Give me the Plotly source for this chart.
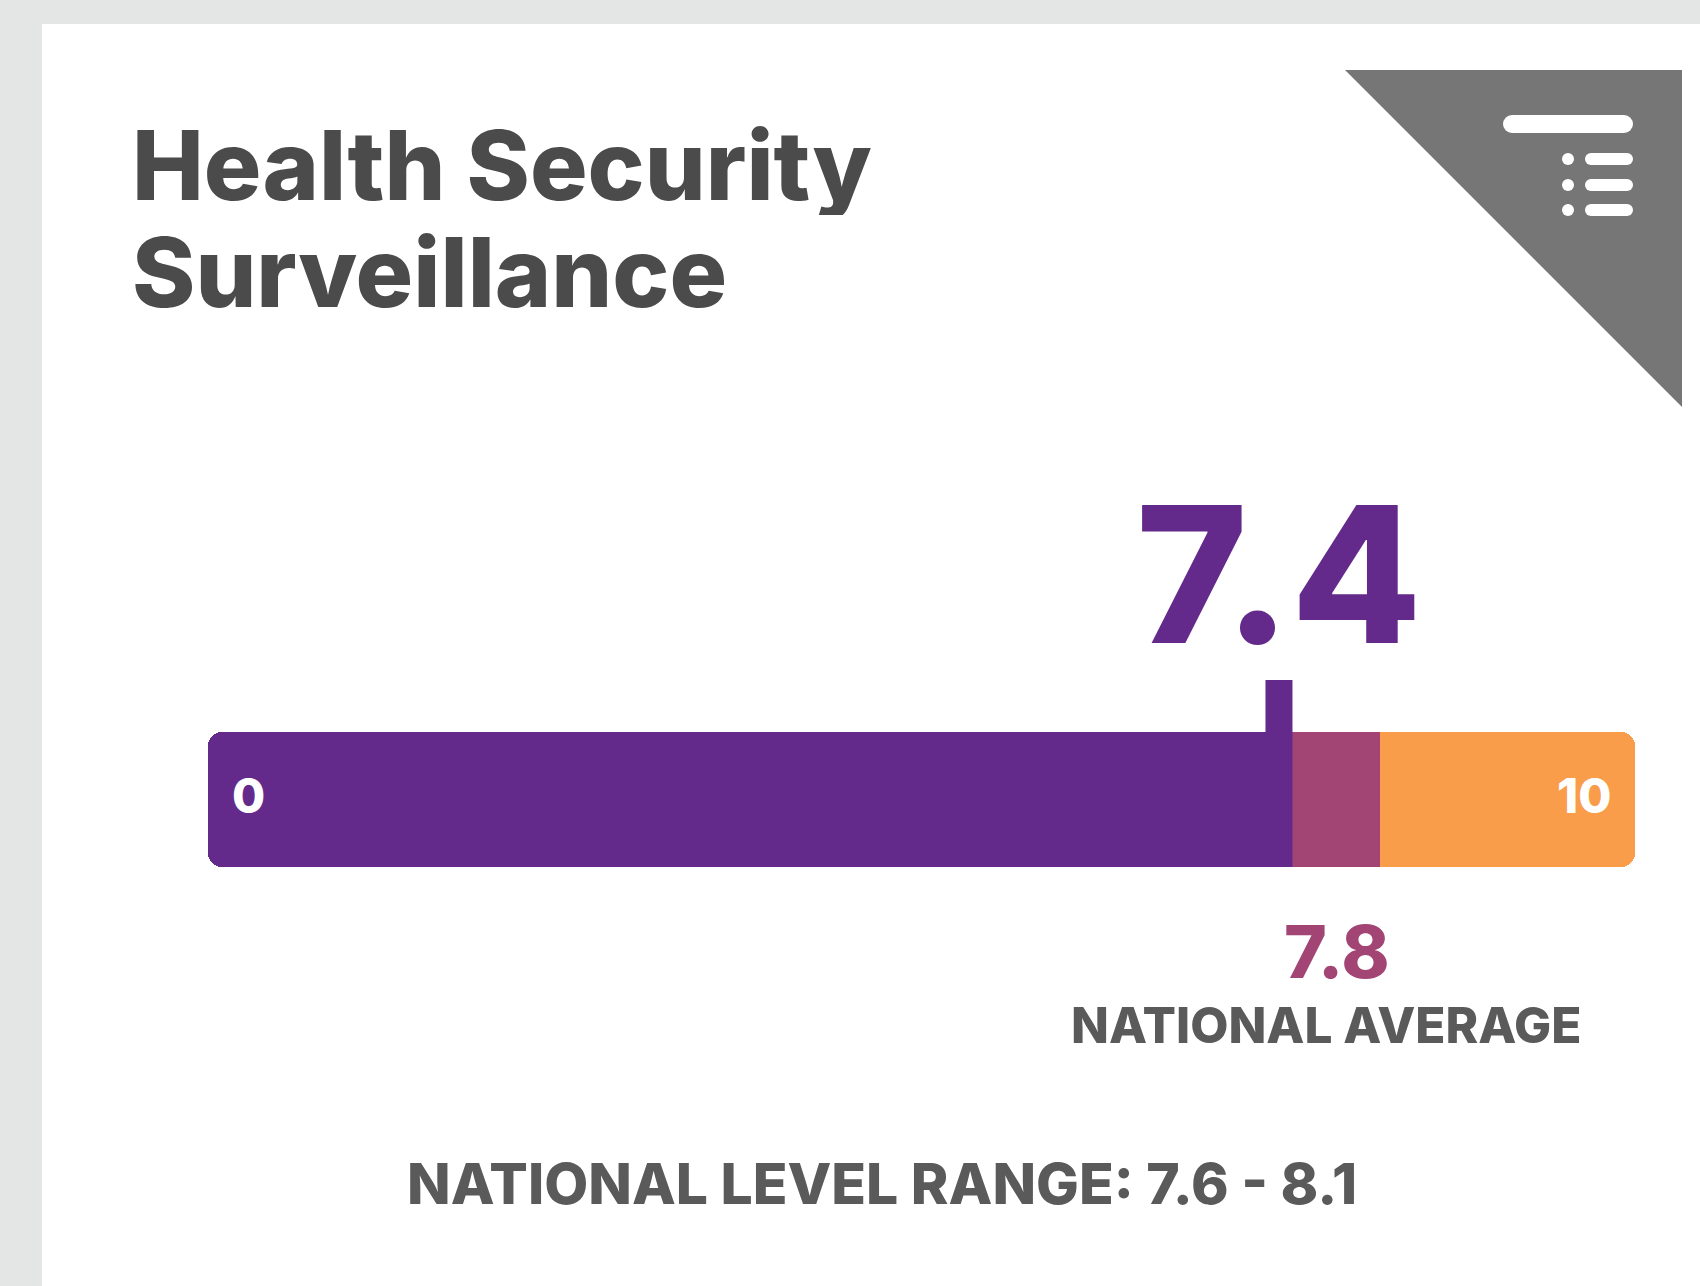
import plotly.graph_objects as go

# ---- data ----
title_lines = ["Health Security", "Surveillance"]
score = 7.4
national_average = 7.8
national_range = [7.6, 8.1]
scale_min, scale_max = 0, 10
scale_labels = ["0", "10"]
avg_label = "NATIONAL AVERAGE"
range_label = "NATIONAL LEVEL RANGE:"

# ---- style ----
W, H = 1700, 1286
PURPLE = "#642a8b"
MAGENTA = "#a24474"
ORANGE = "#f99d4a"
TITLE_GRAY = "#4b4b4b"
LABEL_GRAY = "#5a5a5a"
TRI_GRAY = "#767676"
BG_GRAY = "#e3e6e5"
FONT = "Inter"
XMAX = 9.86  # visible end of the track (axis range end)


def X(px):
    return px / W


def Y(py):
    return 1 - py / H


fig = go.Figure()

bar_y = 0.361
bar_w = 0.722

# orange track over the whole visible scale (rounded on all corners)
fig.add_trace(go.Bar(y=[bar_y], x=[XMAX - scale_min], base=[scale_min], orientation="h", width=bar_w,
                     marker=dict(color=ORANGE, line_width=0, cornerradius=14),
                     hoverinfo="skip", showlegend=False))
# purple: score bar
fig.add_trace(go.Bar(y=[bar_y], x=[score - scale_min], base=[scale_min], orientation="h", width=bar_w,
                     marker=dict(color=PURPLE, line_width=0, cornerradius=14),
                     hoverinfo="skip", showlegend=False))
# magenta: from score to top of national range
fig.add_trace(go.Bar(y=[bar_y], x=[national_range[1] - score], base=[score], orientation="h",
                     width=bar_w, marker=dict(color=MAGENTA, line_width=0, cornerradius=0),
                     hoverinfo="skip", showlegend=False))
# score tick
fig.add_trace(go.Scatter(x=[score, score], y=[0.0, 1.0], mode="lines",
                         line=dict(color=PURPLE, width=27), hoverinfo="skip", showlegend=False))

shapes = []
# white card
shapes.append(dict(type="rect", xref="paper", yref="paper", x0=X(42), x1=X(1720),
                   y0=Y(1300), y1=Y(24), fillcolor="white", line_width=0, layer="below"))
# corner triangle
shapes.append(dict(type="path", xref="paper", yref="paper",
                   path=f"M {X(1345)},{Y(70)} L {X(1682)},{Y(70)} L {X(1682)},{Y(407)} Z",
                   fillcolor=TRI_GRAY, line_width=0, layer="above"))


def rect(x0, y0, x1, y1, color):
    return dict(type="rect", xref="paper", yref="paper", x0=X(x0), x1=X(x1), y0=Y(y1), y1=Y(y0),
                fillcolor=color, line_width=0, layer="above")


def circ(cx, cy, r, color):
    return dict(type="circle", xref="paper", yref="paper", x0=X(cx - r), x1=X(cx + r),
                y0=Y(cy + r), y1=Y(cy - r), fillcolor=color, line_width=0, layer="above")


def pill(x0, x1, cy, h, color):
    r = h / 2
    return [rect(x0 + r, cy - r, x1 - r, cy + r, color), circ(x0 + r, cy, r, color),
            circ(x1 - r, cy, r, color)]


shapes += pill(1503, 1633, 124, 18, "white")
for cy in (159, 185, 210):
    shapes += pill(1585, 1633, cy, 12, "white")
    shapes.append(circ(1568, cy, 6, "white"))

annotations = []


def label(text, x, cy, size, color, xref="paper", xanchor="center", box_h=None, xshift=0):
    d = dict(text=text, xref=xref, yref="paper", x=x, y=Y(cy), xanchor=xanchor,
             yanchor="middle", showarrow=False, xshift=xshift,
             font=dict(family=FONT, size=size, color=color, weight=800))
    if box_h:
        d["height"] = box_h
        d["valign"] = "middle"
    return d


# titles
annotations.append(label(title_lines[0], X(130), 165, 96, TITLE_GRAY, xanchor="left", box_h=100))
annotations.append(label(title_lines[1], X(130), 272, 96, TITLE_GRAY, xanchor="left", box_h=100))
# score label
annotations.append(label(f"{score}", score, 574, 190, PURPLE, xref="x", box_h=160))
# scale end labels
annotations.append(label(scale_labels[0], X(230), 795.5, 48, "white", xanchor="left"))
annotations.append(label(scale_labels[1], X(1613), 795.5, 48, "white", xanchor="right"))
# national average
annotations.append(label(f"{national_average}", national_average, 951.5, 73, MAGENTA, xref="x", box_h=60))
annotations.append(label(avg_label, national_average, 1025, 49.5, LABEL_GRAY, xref="x", box_h=46,
                         xshift=-10))
# national range
annotations.append(label(f"{range_label} {national_range[0]} - {national_range[1]}",
                         X(882), 1183, 57, LABEL_GRAY))

fig.update_layout(
    width=W, height=H, margin=dict(l=0, r=0, t=0, b=0),
    paper_bgcolor=BG_GRAY, plot_bgcolor="rgba(0,0,0,0)",
    barmode="overlay", bargap=0,
    xaxis=dict(domain=[X(208), X(1635)], range=[scale_min, XMAX], visible=False, fixedrange=True),
    yaxis=dict(domain=[Y(867), Y(680)], range=[0, 1], visible=False, fixedrange=True),
    shapes=shapes, annotations=annotations, showlegend=False,
)

fig.write_html("out.html", config=dict(displayModeBar=False, staticPlot=True),
               post_script="document.body.style.margin='0';")
